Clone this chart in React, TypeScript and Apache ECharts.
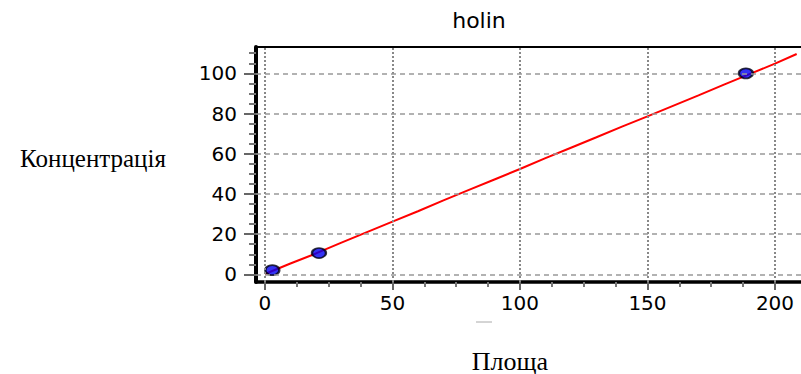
import React, { useEffect, useRef } from "react";
import * as echarts from "echarts";

const titleText = "holin";
const xAxisLabel = "Площа";
const yAxisLabel = "Концентрація";

const xTicks = [0, 50, 100, 150, 200];
const xMinorTicks = [12.5, 25, 37.5, 62.5, 75, 87.5, 112.5, 125, 137.5, 162.5, 175, 187.5];
const yTicks = [0, 20, 40, 60, 80, 100];
const yMinorTicks = [5, 10, 15, 25, 30, 35, 45, 50, 55, 65, 70, 75, 85, 90, 95, 105, 110];

const pointsX = [2.9, 21.2, 188.6];
const pointsY = [2.1, 10.6, 100.0];

const fitX = [0, 10, 20, 30, 40, 50, 60, 70, 80, 90, 100, 110, 120, 130, 140, 150, 160, 170, 180, 190, 200, 208.5];
const fitY = [0.2, 5.4, 10.4, 15.8, 21.0, 26.2, 31.4, 36.8, 42.0, 47.2, 52.4, 57.8, 63.0, 68.2, 73.5, 78.6, 83.8, 89.0, 94.4, 99.6, 104.8, 109.6];

const X_MIN = -3.5;
const X_MAX = 210.2;
const Y_MIN = -3.8;
const Y_MAX = 113.1;

export default function App() {
  const ref = useRef<HTMLDivElement>(null);
  useEffect(() => {
    if (!ref.current) return;
    const chart = echarts.init(ref.current, null, { renderer: "svg" });
    const labelFont = "DejaVu Sans";
    const baseX = {
      type: "value",
      min: X_MIN,
      max: X_MAX,
      splitLine: { show: false },
    };
    const baseY = {
      type: "value",
      min: Y_MIN,
      max: Y_MAX,
      splitLine: { show: false },
    };
    const option: any = {
      animation: false,
      backgroundColor: "#ffffff",
      grid: { left: 256, right: 0, top: 47, bottom: 92, containLabel: false },
      xAxis: [
        {
          ...baseX,
          position: "bottom",
          axisLine: { show: true, onZero: false, lineStyle: { color: "#000", width: 3.5 } },
          axisTick: { show: true, customValues: xTicks, length: 8, lineStyle: { color: "#666", width: 2 } },
          axisLabel: {
            show: true,
            customValues: xTicks,
            margin: 11,
            color: "#000",
            fontFamily: labelFont,
            fontSize: 20,
          },
        },
        {
          ...baseX,
          position: "bottom",
          axisLine: { show: false, onZero: false },
          axisTick: { show: true, customValues: xMinorTicks, length: 5, lineStyle: { color: "#777", width: 2 } },
          axisLabel: { show: false },
        },
        {
          ...baseX,
          position: "top",
          axisLine: { show: true, onZero: false, lineStyle: { color: "#000", width: 2 } },
          axisTick: { show: false },
          axisLabel: { show: false },
        },
      ],
      yAxis: [
        {
          ...baseY,
          position: "left",
          axisLine: { show: true, onZero: false, lineStyle: { color: "#000", width: 4 } },
          axisTick: { show: true, customValues: yTicks, length: 12, lineStyle: { color: "#666", width: 2 } },
          axisLabel: {
            show: true,
            customValues: yTicks,
            margin: 19,
            color: "#000",
            fontFamily: labelFont,
            fontSize: 20,
          },
        },
        {
          ...baseY,
          position: "left",
          axisLine: { show: false, onZero: false },
          axisTick: { show: true, customValues: yMinorTicks, length: 7, lineStyle: { color: "#777", width: 2 } },
          axisLabel: { show: false },
        },
      ],
      series: [
        {
          type: "line",
          xAxisIndex: 0,
          yAxisIndex: 0,
          data: [],
          silent: true,
          markLine: {
            silent: true,
            symbol: ["none", "none"],
            label: { show: false },
            lineStyle: { color: "#888", type: [2, 2], width: 2 },
            data: xTicks.map((v) => ({ xAxis: v })),
          },
        },
        {
          type: "line",
          xAxisIndex: 0,
          yAxisIndex: 0,
          data: [],
          silent: true,
          markLine: {
            silent: true,
            symbol: ["none", "none"],
            label: { show: false },
            lineStyle: { color: "#999", type: [5, 4], width: 1.5 },
            data: yTicks.map((v) => ({ yAxis: v })),
          },
        },
        {
          type: "line",
          xAxisIndex: 0,
          yAxisIndex: 0,
          data: fitX.map((x, i) => [x, fitY[i]]),
          showSymbol: false,
          symbol: "none",
          lineStyle: { color: "#ff0000", width: 2 },
          z: 3,
        },
        {
          type: "scatter",
          xAxisIndex: 0,
          yAxisIndex: 0,
          data: pointsX.map((x, i) => [x, pointsY[i]]),
          symbol: "circle",
          symbolSize: [14, 10],
          itemStyle: { color: "#0000f0", borderColor: "#000010", borderWidth: 2 },
          z: 4,
        },
      ],
      graphic: [
        {
          type: "text",
          x: 479,
          y: 20,
          style: {
            text: titleText,
            font: "22px 'DejaVu Sans'",
            fill: "#000",
            align: "center",
            verticalAlign: "middle",
          },
        },
        {
          type: "text",
          x: 93,
          y: 158,
          style: {
            text: yAxisLabel,
            font: "25px 'Liberation Serif'",
            fill: "#000",
            align: "center",
            verticalAlign: "middle",
          },
        },
        {
          type: "text",
          x: 510,
          y: 361,
          style: {
            text: xAxisLabel,
            font: "26px 'Liberation Serif'",
            fill: "#000",
            align: "center",
            verticalAlign: "middle",
          },
        },
        {
          type: "line",
          shape: { x1: 476, y1: 322, x2: 492, y2: 322 },
          style: { stroke: "#aaa", lineWidth: 1 },
        },
      ],
    };
    chart.setOption(option);
    return () => chart.dispose();
  }, []);
  return (
    <div
      ref={ref}
      style={{ position: "fixed", left: 0, top: 0, width: 801, height: 374, background: "#fff" }}
    />
  );
}
